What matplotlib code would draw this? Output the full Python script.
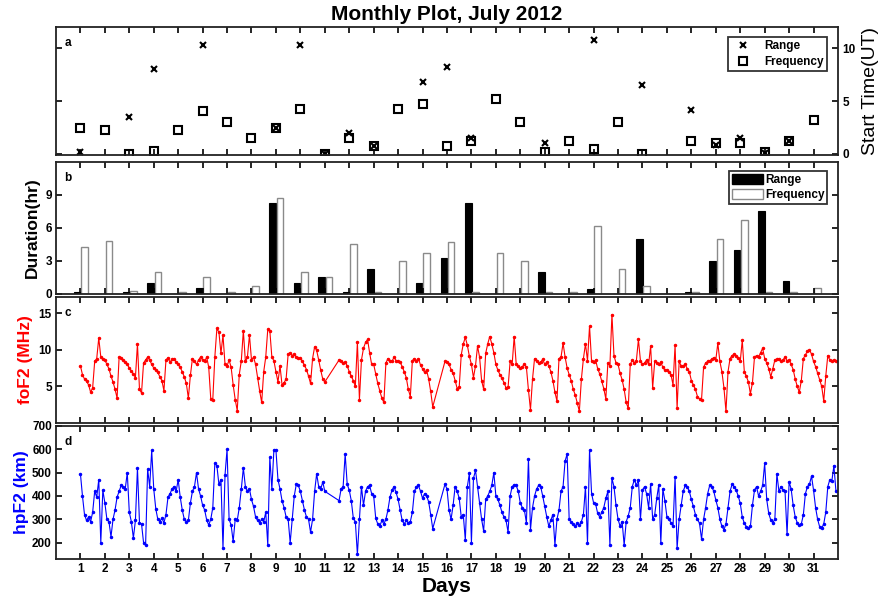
import numpy as np
import matplotlib
matplotlib.use('Agg')
import matplotlib.pyplot as plt
from matplotlib.patches import Patch

plt.rcParams['font.family'] = ['Liberation Sans', 'DejaVu Sans']

# --- DATA ---
days = list(range(1, 32))
nan = np.nan

# start time (UT) of the events, one value per day
range_start = [0.2, nan, 3.5, 8.0, nan, 10.3, nan, nan, 2.5, 10.3,
               0.0, 2.0, 0.75, nan, 6.8, 8.2, 1.5, nan, nan, 1.0,
               nan, 10.8, nan, 6.5, nan, 4.2, 0.8, 1.5, 0.1, 1.2, nan]
freq_start = [2.5, 2.3, 0.0, 0.3, 2.3, 4.05, 3.0, 1.55, 2.5, 4.25,
              0.0, 1.5, 0.75, 4.25, 4.75, 0.75, 1.2, 5.2, 3.0, 0.2,
              1.2, 0.5, 3.0, 0.0, nan, 1.2, 1.0, 1.0, 0.2, 1.2, 3.25]

# duration (hr)
range_dur = [0.2, 0, 0.2, 1.0, 0, 0.5, 0, 0, 8.25, 1.0,
             1.5, 0.2, 2.25, 0, 1.0, 3.25, 8.25, 0, 0, 2.0,
             0, 0.45, 0, 5.0, 0, 0.15, 3.0, 4.0, 7.5, 1.2, 0]
freq_dur = [4.25, 4.8, 0.25, 2.0, 0.2, 1.5, 0.2, 0.75, 8.75, 2.0,
            1.5, 4.5, 0.2, 3.0, 3.7, 4.75, 0.2, 3.7, 3.0, 0.2,
            0.2, 6.2, 2.25, 0.7, 0, 0.15, 5.0, 6.7, 0.2, 0.2, 0.5]

# foF2 (MHz), 2-hourly values, one row per day
fof2 = [
    7.8, 6.6, 6.0, 5.7, 5.2, 4.2, 4.8, 8.4, 8.8, 11.6, 9.0, 8.8,
    8.6, 8.0, 7.4, 6.4, 5.6, 4.6, 3.4, 9.0, 8.9, 8.6, 8.3, 8.0,
    7.5, 7.1, 6.7, 6.2, 10.8, 4.6, 4.1, 8.2, 8.6, 9.0, 8.6, 8.0,
    7.5, 7.2, 6.9, 6.3, 5.8, 4.4, 8.6, 8.9, 8.3, 8.7, 8.8, 8.3,
    8.0, 7.6, 7.0, 6.3, 5.4, 3.4, 6.5, 8.8, 8.4, 8.0, 8.6, 9.0,
    8.6, 8.4, 9.0, 7.6, 3.3, 3.2, 9.0, 12.9, 12.4, 9.5, 12.0, 8.0,
    7.8, 8.6, 7.6, 5.2, 3.2, 1.7, 6.6, 8.5, 12.6, 8.4, 9.0, 12.0,
    8.6, 9.0, 8.0, 6.2, 4.4, 2.8, 7.0, 9.0, 12.8, 12.6, 9.0, 8.5,
    7.0, 5.6, 7.8, 5.2, 5.5, 6.0, 9.4, 9.6, 9.2, 9.4, 9.0, 8.9,
    8.9, 8.4, 7.9, 7.3, 6.4, 5.4, 8.8, 10.4, 9.9, 8.6, 7.2, 6.0,
    5.6, nan, nan, nan, nan, nan, nan, 8.6, 8.4, 8.2, 8.3, 7.8,
    7.0, 6.4, 5.8, 5.0, 11.0, 3.2, 8.6, 10.2, 11.0, 11.4, 9.6, 8.0,
    8.0, 6.7, 5.4, 4.4, 3.4, 2.8, 8.2, 8.8, 8.5, 8.4, 9.0, 8.5,
    8.4, 8.3, 7.7, 7.0, 6.2, 4.6, 3.6, 8.5, 8.8, 8.5, 8.8, 7.9,
    7.4, 6.9, 7.2, 6.0, 4.3, 2.2, nan, nan, nan, nan, nan, 8.4,
    8.3, 8.0, 7.3, 6.8, 5.8, 4.7, 4.9, 9.3, 10.8, 11.7, 10.6, 9.1,
    8.0, 6.2, 7.8, 10.5, 9.0, 5.8, 4.6, 9.5, 10.8, 11.8, 10.8, 9.6,
    8.0, 7.2, 6.6, 6.1, 5.5, 4.8, 4.9, 8.4, 8.0, 11.8, 8.0, 7.8,
    7.5, 7.7, 8.0, 7.6, 4.5, 1.8, 6.0, 8.8, 8.5, 8.2, 8.3, 8.7,
    8.0, 8.3, 7.8, 7.0, 5.8, 4.2, 3.0, 8.8, 9.0, 10.9, 9.0, 7.5,
    6.6, 5.8, 4.6, 3.8, 2.7, 1.6, 6.0, 8.8, 10.8, 8.5, 13.2, 8.4,
    8.3, 8.6, 7.4, 6.7, 5.7, 4.7, 3.3, 8.2, 7.8, 14.8, 9.2, 8.2,
    8.0, 6.8, 5.9, 4.6, 2.8, 2.0, 8.0, 8.6, 8.2, 8.5, 11.4, 8.5,
    8.0, 8.2, 8.6, 8.0, 10.5, 4.8, 8.4, 8.2, 8.0, 8.3, 7.6, 7.2,
    7.2, 7.0, 6.6, 5.2, 10.6, 2.0, 8.4, 7.8, 7.8, 8.0, 7.4, 7.0,
    5.8, 5.2, 4.6, 3.6, 3.3, 3.2, 7.6, 8.2, 8.4, 8.5, 8.7, 8.9,
    8.6, 10.9, 8.4, 7.0, 4.8, 1.6, 7.0, 8.8, 9.2, 9.4, 9.2, 8.9,
    8.4, 11.3, 7.0, 6.4, 5.6, 4.0, 5.5, 9.0, 9.2, 9.0, 9.6, 10.2,
    8.8, 8.2, 7.4, 6.3, 7.4, 8.6, 8.7, 8.8, 8.4, 8.6, 9.0, 8.5,
    8.6, 8.0, 7.3, 6.0, 5.0, 4.2, 5.8, 8.8, 9.3, 9.8, 10.0, 9.4,
    8.4, 7.7, 6.8, 5.9, 5.0, 3.0, 6.4, 9.2, 8.6, 8.5, 8.6, 8.4,
]

# hpF2 (km), 2-hourly values, one row per day
hpf2 = [
    495, 400, 320, 295, 310, 290, 330, 420, 395, 470, 200, 425,
    370, 300, 290, 225, 300, 340, 395, 420, 445, 440, 430, 500,
    330, 290, 220, 295, 520, 285, 280, 200, 190, 515, 440, 595,
    430, 345, 300, 290, 305, 285, 320, 395, 410, 430, 440, 420,
    470, 395, 340, 300, 290, 295, 370, 420, 440, 500, 430, 400,
    360, 340, 297, 275, 300, 350, 540, 530, 450, 470, 176, 490,
    600, 300, 275, 205, 300, 295, 350, 430, 520, 440, 420, 430,
    385, 355, 310, 295, 285, 300, 290, 330, 190, 565, 430, 597,
    597, 470, 430, 380, 350, 310, 300, 200, 300, 400, 450, 445,
    420, 380, 340, 310, 300, 245, 300, 420, 495, 440, 430, 460,
    420, nan, nan, nan, nan, nan, nan, 380, 430, 440, 580, 450,
    425, 380, 305, 290, 150, 300, 440, 360, 420, 440, 445, 410,
    400, 305, 280, 270, 295, 280, 300, 340, 395, 425, 440, 415,
    385, 340, 295, 280, 295, 285, 290, 330, 420, 440, 445, 420,
    390, 410, 400, 375, 320, 260, nan, nan, nan, nan, nan, 450,
    430, 340, 300, 360, 440, 420, 390, 310, 320, 210, 440, 497,
    200, 475, 510, 440, 370, 300, 250, 385, 400, 420, 445, 500,
    400, 385, 360, 330, 310, 295, 245, 400, 440, 447, 445, 420,
    370, 350, 340, 285, 560, 255, 350, 400, 430, 445, 440, 400,
    355, 310, 270, 297, 320, 190, 300, 340, 420, 440, 550, 580,
    300, 290, 280, 270, 285, 275, 290, 320, 440, 197, 597, 410,
    370, 365, 325, 310, 330, 350, 390, 420, 190, 476, 440, 360,
    300, 270, 290, 190, 290, 315, 350, 440, 470, 445, 470, 300,
    425, 440, 410, 350, 450, 300, 320, 390, 447, 197, 430, 380,
    310, 300, 285, 270, 483, 175, 300, 360, 420, 445, 440, 420,
    385, 355, 320, 300, 283, 215, 300, 350, 410, 445, 440, 420,
    383, 350, 300, 270, 255, 280, 350, 420, 450, 440, 425, 400,
    369, 310, 283, 269, 262, 270, 360, 425, 440, 400, 420, 445,
    540, 385, 325, 297, 285, 300, 495, 420, 440, 425, 420, 235,
    460, 430, 360, 310, 285, 275, 280, 320, 410, 440, 450, 485,
    425, 350, 300, 268, 262, 280, 330, 440, 470, 465, 530, 420,
]

SAMPLES_PER_DAY = 12

# --- FIGURE ---
fig = plt.figure(figsize=(8.86, 6.06), dpi=100)
L, W = 0.0632, 0.8826
ax_a = fig.add_axes([L, 0.7442, W, 0.2112])
ax_b = fig.add_axes([L, 0.5149, W, 0.2178])
ax_c = fig.add_axes([L, 0.3020, W, 0.2079])
ax_d = fig.add_axes([L, 0.0776, W, 0.2195])


def style(ax, letter):
    ax.set_xlim(0, 32)
    ax.set_xticks(days)
    ax.tick_params(direction='in', top=True, right=True, length=4,
                   width=1.2, labelsize=8.5, pad=3)
    for lab in ax.get_xticklabels() + ax.get_yticklabels():
        lab.set_fontweight('bold')
    for s in ax.spines.values():
        s.set_linewidth(1.3)
        s.set_color('#222222')
    ax.text(0.011, 1 - 16 / (ax.bbox.height), letter, transform=ax.transAxes,
            fontsize=8.5, fontweight='bold', va='center', ha='left')


d = np.array(days, dtype=float)

# panel a - start times
ax_a.plot(d, range_start, linestyle='none', marker='x', color='black',
          markersize=5, markeredgewidth=1.5, label='Range')
ax_a.plot(d, freq_start, linestyle='none', marker='s', markerfacecolor='none',
          markeredgecolor='black', markersize=6, markeredgewidth=1.5,
          label='Frequency')
ax_a.set_ylim(-0.1, 12)
ax_a.set_yticks([0, 5, 10])
ax_a.yaxis.tick_right()
ax_a.yaxis.set_label_position('right')
ax_a.set_ylabel('Start Time(UT)', fontsize=14, labelpad=5)
style(ax_a, 'a')
ax_a.tick_params(left=True, labelleft=False, labelbottom=False)
leg = ax_a.legend(loc='upper right', fontsize=8.5, frameon=True, fancybox=False,
                  borderpad=0.3, handletextpad=0.8, labelspacing=0.3,
                  bbox_to_anchor=(0.994, 0.97))
leg.get_frame().set_edgecolor('black')
leg.get_frame().set_linewidth(1.3)
for t in leg.get_texts():
    t.set_fontweight('bold')
ax_a.set_title('Monthly Plot, July 2012', fontsize=15, fontweight='bold', pad=5)

# panel b - durations
bw = 0.27
ax_b.bar(d - 0.13, range_dur, width=bw, color='black', edgecolor='black',
         linewidth=0.8, label='Range')
ax_b.bar(d + 0.17, freq_dur, width=bw, color='white', edgecolor='#8a8a8a',
         linewidth=1.0, label='Frequency')
ax_b.set_ylim(0, 12)
ax_b.set_yticks([0, 3, 6, 9])
ax_b.set_ylabel('Duration(hr)', fontsize=12.5, fontweight='bold', labelpad=4)
style(ax_b, 'b')
ax_b.tick_params(labelbottom=False)
handles = [Patch(facecolor='black', edgecolor='black'),
           Patch(facecolor='white', edgecolor='#8a8a8a')]
leg = ax_b.legend(handles, ['Range', 'Frequency'], loc='upper right',
                  fontsize=8.5, frameon=True, fancybox=False, borderpad=0.25,
                  handlelength=2.6, handleheight=0.9, handletextpad=0.2,
                  labelspacing=0.25, bbox_to_anchor=(0.994, 0.975))
leg.get_frame().set_edgecolor('black')
leg.get_frame().set_linewidth(1.3)
for t in leg.get_texts():
    t.set_fontweight('bold')

# time axis for the ionosonde series
t = np.repeat(d, SAMPLES_PER_DAY) + np.tile(np.arange(SAMPLES_PER_DAY) / SAMPLES_PER_DAY, len(days))
fo = np.array(fof2, dtype=float)
hp = np.array(hpf2, dtype=float)

# panel c - foF2
ok = ~np.isnan(fo)
ax_c.plot(t[ok], fo[ok], color='#ff0000', linewidth=0.8, marker='.',
          markersize=3)
ax_c.set_ylim(0, 17.2)
ax_c.set_yticks([5, 10, 15])
ax_c.set_ylabel('foF2 (MHz)', fontsize=12.5, fontweight='bold', color='#ff0000',
                labelpad=4)
style(ax_c, 'c')
ax_c.tick_params(labelbottom=False)

# panel d - hpF2
ok = ~np.isnan(hp)
ax_d.plot(t[ok], hp[ok], color='#0000ff', linewidth=0.8, marker='.',
          markersize=3)
ax_d.set_ylim(130, 700)
ax_d.set_yticks([200, 300, 400, 500, 600, 700])
ax_d.set_ylabel('hpF2 (km)', fontsize=12.5, fontweight='bold', color='#0000ff',
                labelpad=2)
style(ax_d, 'd')
ax_d.set_xlabel('Days', fontsize=15, fontweight='bold', labelpad=1)

fig.savefig('out.png', dpi=100)
